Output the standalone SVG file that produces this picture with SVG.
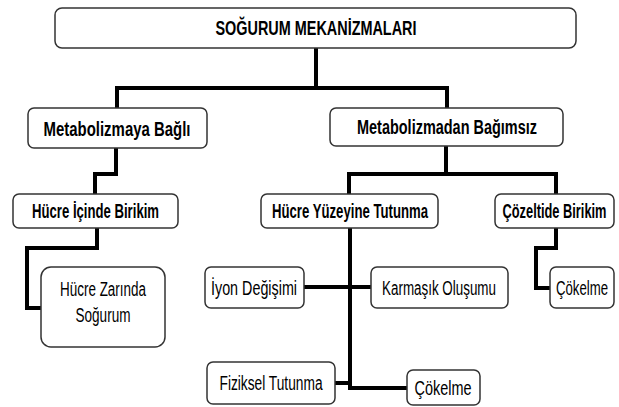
<svg xmlns="http://www.w3.org/2000/svg" width="619" height="407" viewBox="0 0 619 407">
<style>
.box{fill:#fff;stroke:#333;stroke-width:1.5}
.t{font-family:"Liberation Sans",Arial,sans-serif;font-size:20px;fill:#000;text-anchor:middle}
.b{font-weight:bold}
.c{fill:none;stroke:#000;stroke-width:4;stroke-linejoin:miter;stroke-linecap:square}
</style>
<rect width="619" height="407" fill="#fff"/>
<g id="connectors">
<path class="c" d="M316,48 V88 M117,88 H447 M117,88 V107 M447,88 V107"/>
<path class="c" d="M116,148 V174 H95 V193"/>
<path class="c" d="M446,146 V174 M349,174 H556 M349,174 V193 M556,174 V193"/>
<path class="c" d="M97,228 V248 H27 V308 H40"/>
<path class="c" d="M350,228 V388 H406 M304,287 H370 M335,383 H350"/>
<path class="c" d="M556,228 V248 H536 V288 H549"/>
</g>
<g id="n-title"><rect class="box" x="55" y="8" width="521" height="40" rx="7"/><text class="t b" transform="translate(316,35) scale(0.68,1)" textLength="295.6" lengthAdjust="spacingAndGlyphs">SOĞURUM MEKANİZMALARI</text></g>
<g id="n-metabolizmaya"><rect class="box" x="28" y="108" width="179" height="40" rx="6"/><text class="t b" transform="translate(117,135.5) scale(0.68,1)" textLength="216.2" lengthAdjust="spacingAndGlyphs">Metabolizmaya Bağlı</text></g>
<g id="n-metabolizmadan"><rect class="box" x="330" y="108" width="233" height="38" rx="6"/><text class="t b" transform="translate(447,134) scale(0.68,1)" textLength="264.7" lengthAdjust="spacingAndGlyphs">Metabolizmadan Bağımsız</text></g>
<g id="n-hucre-icinde"><rect class="box" x="13" y="194" width="165" height="34" rx="6"/><text class="t b" transform="translate(95.5,218) scale(0.68,1)" textLength="186.8" lengthAdjust="spacingAndGlyphs">Hücre İçinde Birikim</text></g>
<g id="n-hucre-yuzeyine"><rect class="box" x="261" y="194" width="177" height="34" rx="6"/><text class="t b" transform="translate(350,218) scale(0.68,1)" textLength="229.4" lengthAdjust="spacingAndGlyphs">Hücre Yüzeyine Tutunma</text></g>
<g id="n-cozeltide"><rect class="box" x="495" y="194" width="119" height="34" rx="6"/><text class="t b" transform="translate(554.5,218) scale(0.68,1)" textLength="152.9" lengthAdjust="spacingAndGlyphs">Çözeltide Birikim</text></g>
<g id="n-hucre-zarinda"><rect class="box" x="41" y="267" width="124" height="80" rx="10"/><text class="t" transform="translate(103,296) scale(0.68,1)" textLength="126.5" lengthAdjust="spacingAndGlyphs">Hücre Zarında</text><text class="t" transform="translate(103,322) scale(0.68,1)" textLength="80.9" lengthAdjust="spacingAndGlyphs">Soğurum</text></g>
<g id="n-iyon"><rect class="box" x="205" y="267" width="99" height="41" rx="6"/><text class="t" transform="translate(254,294.5) scale(0.68,1)" textLength="126.5" lengthAdjust="spacingAndGlyphs">İyon Değişimi</text></g>
<g id="n-karmasik"><rect class="box" x="371" y="267" width="137" height="41" rx="6"/><text class="t" transform="translate(439,294.5) scale(0.68,1)" textLength="167.6" lengthAdjust="spacingAndGlyphs">Karmaşık Oluşumu</text></g>
<g id="n-cokelme-1"><rect class="box" x="550" y="267" width="64" height="41" rx="6"/><text class="t" transform="translate(582,294.5) scale(0.68,1)" textLength="76.5" lengthAdjust="spacingAndGlyphs">Çökelme</text></g>
<g id="n-fiziksel"><rect class="box" x="207" y="362" width="128" height="42" rx="6"/><text class="t" transform="translate(271,390) scale(0.68,1)" textLength="151.5" lengthAdjust="spacingAndGlyphs">Fiziksel Tutunma</text></g>
<g id="n-cokelme-2"><rect class="box" x="407" y="370" width="73" height="35" rx="6"/><text class="t" transform="translate(443,394.5) scale(0.68,1)" textLength="83.8" lengthAdjust="spacingAndGlyphs">Çökelme</text></g>
</svg>
